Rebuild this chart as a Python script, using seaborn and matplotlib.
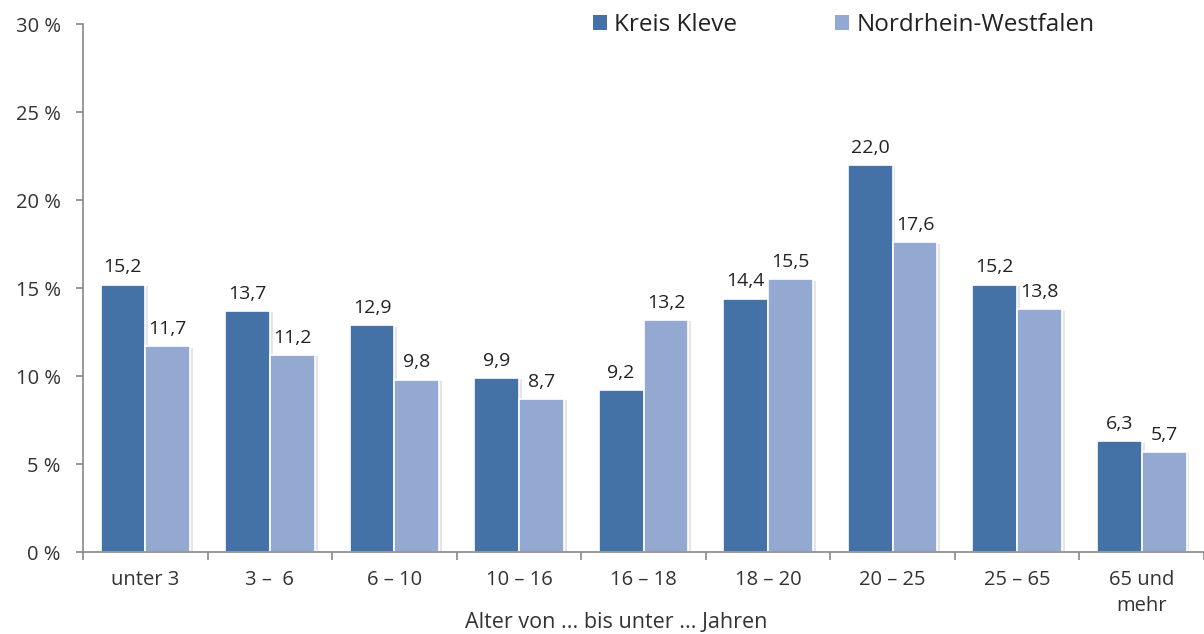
import numpy as np
import pandas as pd
import matplotlib
matplotlib.use("Agg")
import matplotlib.pyplot as plt
import matplotlib.patheffects as pe
from matplotlib.patches import Patch
import seaborn as sns

categories = ["unter 3", "3 –  6", "6 – 10", "10 – 16", "16 – 18", "18 – 20", "20 – 25", "25 – 65", "65 und\nmehr"]
kreis_kleve = [15.2, 13.7, 12.9, 9.9, 9.2, 14.4, 22.0, 15.2, 6.3]
nrw = [11.7, 11.2, 9.8, 8.7, 13.2, 15.5, 17.6, 13.8, 5.7]
series = ["Kreis Kleve", "Nordrhein-Westfalen"]
yticks = [0, 5, 10, 15, 20, 25, 30]

sns.set_theme(style="white")
plt.rcParams['font.family'] = ['Open Sans', 'DejaVu Sans']

df = pd.DataFrame({
    "cat": categories * 2,
    "val": kreis_kleve + nrw,
    "series": [series[0]] * len(categories) + [series[1]] * len(categories),
})

colors = ["#4471a6", "#94a9d2"]
txt = "#333333"

fig = plt.figure(figsize=(12.04, 6.34), dpi=100)
ax = fig.add_axes([0.069, 0.129, 0.931, 0.833])

sns.barplot(data=df, x="cat", y="val", hue="series", palette=colors, width=0.72,
            edgecolor="white", linewidth=1.2, ax=ax, legend=False, saturation=1)

for p in ax.patches:
    p.set_path_effects([pe.SimplePatchShadow(offset=(2, -1), alpha=0.1, shadow_rgbFace="black"), pe.Normal()])

for cont in ax.containers:
    labels = [f"{v:.1f}".replace(".", ",") for v in cont.datavalues]
    ax.bar_label(cont, labels=labels, padding=6, fontsize=14, color="#222222")

ax.set_xlim(-0.5, len(categories) - 0.5)
ax.set_ylim(0, 30)
ax.set_yticks(yticks)
ax.set_yticklabels([f"{t} %" for t in yticks], fontsize=14.5, color=txt)
ax.set_xticks(range(len(categories)))
ax.set_xticklabels(categories, fontsize=14.5, color=txt, linespacing=1.35)
ax.set_xticks(np.arange(-0.5, len(categories), 1), minor=True)
ax.tick_params(axis="x", which="major", length=0, pad=13)
ax.tick_params(axis="x", which="minor", length=6, color="#888888", width=1.2, direction="out", bottom=True)
ax.tick_params(axis="y", length=5, color="#888888", width=1.2, direction="out", left=True, pad=11)
ax.set_xlabel("")
ax.set_ylabel("")
fig.text(0.512, 0.002, "Alter von ... bis unter ... Jahren", fontsize=15.5, color=txt,
         ha="center", va="bottom")

for s in ["top", "right"]:
    ax.spines[s].set_visible(False)
for s in ["left", "bottom"]:
    ax.spines[s].set_color("#888888")
    ax.spines[s].set_linewidth(1.2)

handles = [Patch(facecolor=c, edgecolor="none") for c in colors]
fig.legend(handles, series, loc="upper left", bbox_to_anchor=(0.474, 1.014), ncol=2, frameon=False,
           fontsize=17.5, handlelength=0.6, handleheight=0.6, handletextpad=0.3, columnspacing=4.0,
           labelcolor="#222222")

fig.savefig("out.png", dpi=100)
